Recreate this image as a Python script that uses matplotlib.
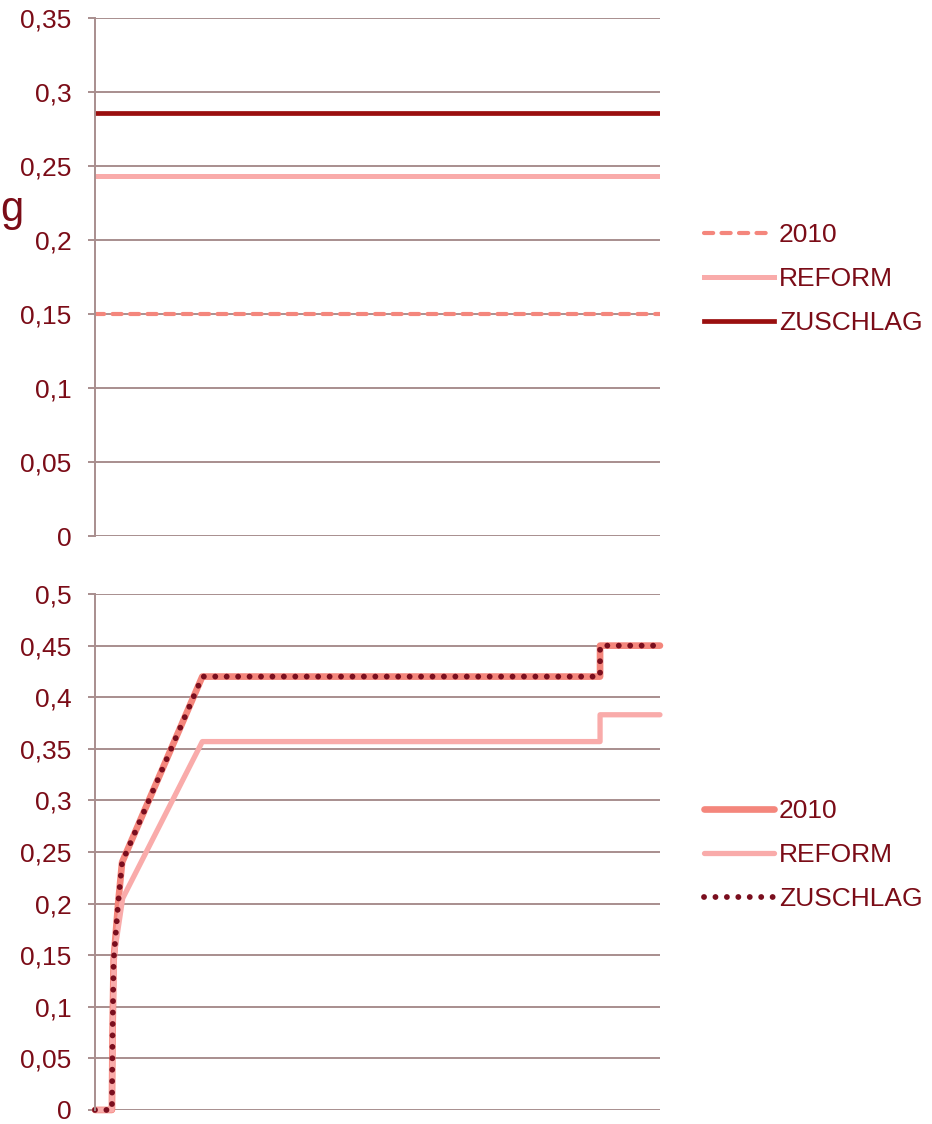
import matplotlib.pyplot as plt

# obere Grafik: konstante Sätze
top_labels = ["2010", "REFORM", "ZUSCHLAG"]
top_values = [0.15, 0.243, 0.2855]

# untere Grafik: Verlauf über das Einkommen (x in % der Achsenbreite)
x_2010 = [0, 3.0, 3.1, 3.3, 4.1, 4.8, 19.0, 89.4, 89.4, 100]
y_2010 = [0, 0, 0.07, 0.145, 0.20, 0.24, 0.42, 0.42, 0.45, 0.45]
x_reform = [0, 3.0, 3.1, 3.4, 4.9, 19.0, 89.4, 89.4, 100]
y_reform = [0, 0, 0.07, 0.15, 0.205, 0.357, 0.357, 0.383, 0.383]
x_zuschlag = x_2010
y_zuschlag = y_2010

text_red = "#7B0C17"
grid_col = "#A88E8E"
c2010 = "#F4867C"
creform = "#F9ABAA"
czuschlag = "#9A0F0F"
cdots = "#7A0E1E"

plt.rcParams["font.family"] = ["Liberation Sans", "DejaVu Sans"]
plt.rcParams["font.size"] = 19

fig = plt.figure(figsize=(9.32, 11.24), dpi=100)
ax1 = fig.add_axes([0.1019, 0.5231, 0.6062, 0.4609])
ax2 = fig.add_axes([0.1019, 0.0125, 0.6062, 0.4590])


def style_axis(ax, ymax):
    ax.set_xlim(0, 100)
    ax.set_ylim(0, ymax)
    ticks = [i * 0.05 for i in range(int(round(ymax / 0.05)) + 1)]
    ax.set_yticks(ticks)
    ax.set_yticklabels([("%g" % t).replace(".", ",") for t in ticks])
    ax.set_xticks([])
    ax.grid(axis="y", color=grid_col, linewidth=1.4)
    ax.set_axisbelow(True)
    for s in ["top", "right", "bottom"]:
        ax.spines[s].set_visible(False)
    ax.spines["left"].set_color(grid_col)
    ax.spines["left"].set_linewidth(1.4)
    ax.tick_params(axis="y", colors=grid_col, labelcolor=text_red,
                   length=5, width=1.4, pad=12, labelsize=19)


style_axis(ax1, 0.35)
style_axis(ax2, 0.5)

# obere Grafik
ax1.axhline(top_values[0], color=c2010, lw=3, dashes=(2.2, 2),
            dash_capstyle="round", label=top_labels[0])
ax1.axhline(top_values[1], color=creform, lw=3.6, label=top_labels[1])
ax1.axhline(top_values[2], color=czuschlag, lw=3.4, label=top_labels[2])

# untere Grafik
ax2.plot(x_2010, y_2010, color=c2010, lw=4.8, clip_on=False,
         solid_joinstyle="round", solid_capstyle="round", label="2010")
ax2.plot(x_reform, y_reform, color=creform, lw=3.8, clip_on=False,
         solid_joinstyle="round", solid_capstyle="round", label="REFORM")
ax2.plot(x_zuschlag, y_zuschlag, color=cdots, lw=4.2, clip_on=False,
         linestyle=(0, (0.01, 1.95)), dash_capstyle="round", label="ZUSCHLAG")

leg_kw = dict(frameon=False, handlelength=2.65, handletextpad=0.18,
              labelspacing=0.76, fontsize=19, labelcolor=text_red,
              loc="center left", borderaxespad=0, borderpad=0)
ax1.legend(bbox_to_anchor=(0.7554, 0.7518), bbox_transform=fig.transFigure, **leg_kw)
ax2.legend(bbox_to_anchor=(0.7554, 0.2393), bbox_transform=fig.transFigure, **leg_kw)

# Rest der Achsenbeschriftung am linken Rand
fig.text(0.0, 1 - 221 / 1124, "g", ha="left", va="baseline",
         fontsize=30, color=text_red)

fig.savefig("out.png", dpi=100)
